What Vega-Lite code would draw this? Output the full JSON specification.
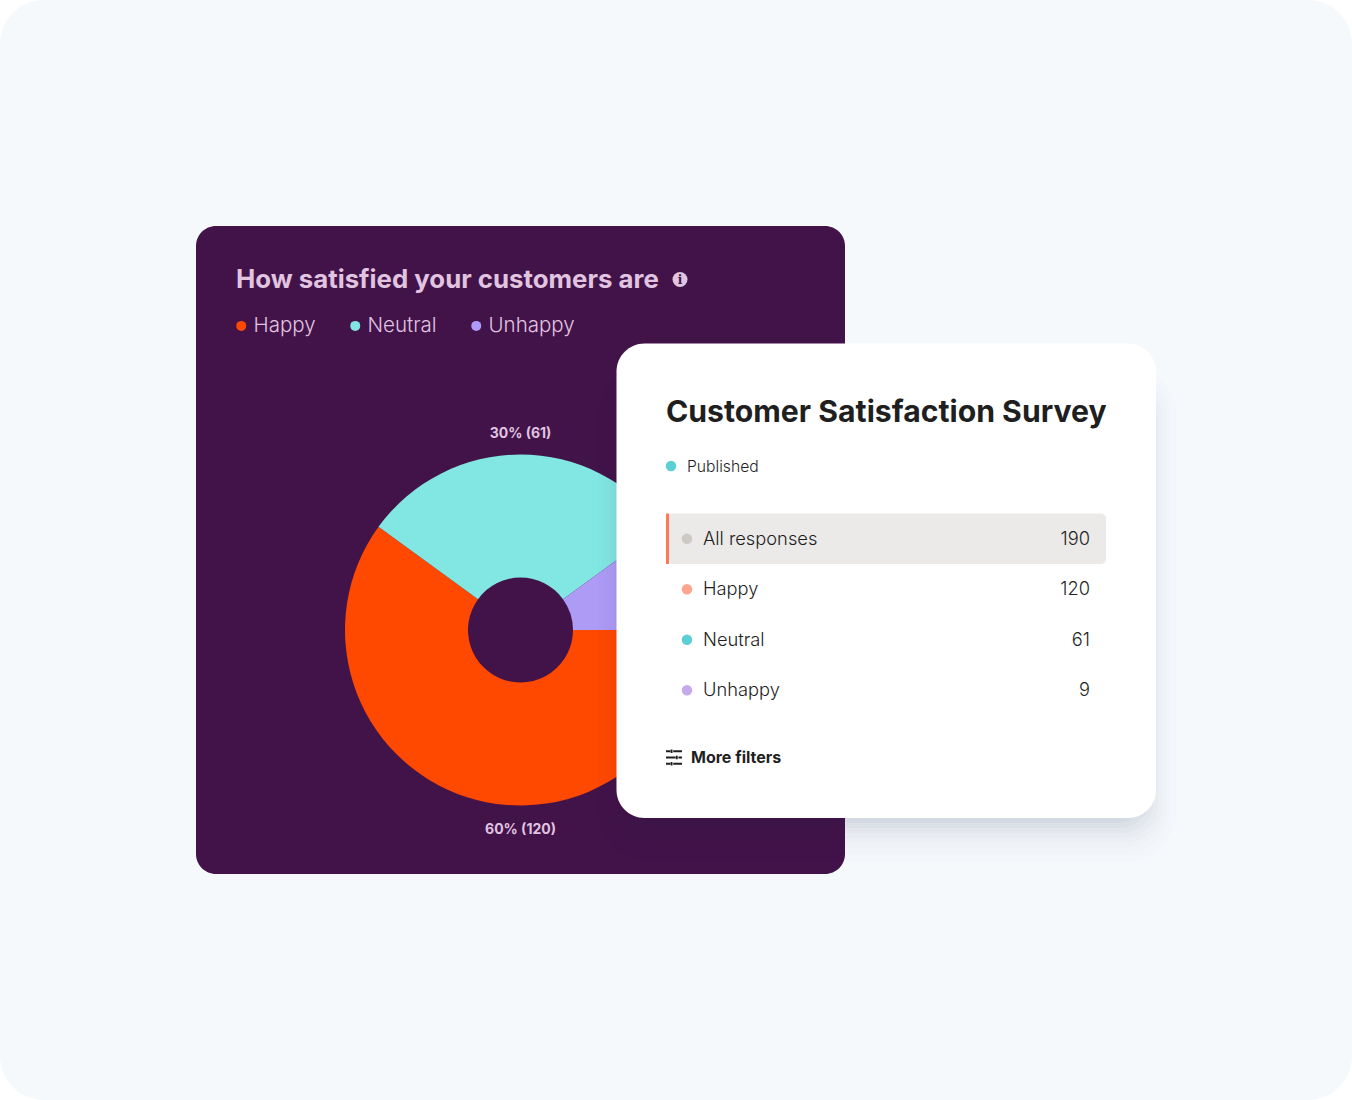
{
"$schema":"https://vega.github.io/schema/vega-lite/v6.json",
"width":1352,"height":1100,"padding":0,
"autosize":{"type":"fit","contains":"padding"},
"background":"#ffffff",
"config":{"view":{"stroke":null},"axis":{"domain":false,"ticks":false,"labels":false,"title":null,"grid":false},"font":"Inter"},
"datasets":{
"segments":[
{"segment":"Happy","share":60,"count":120,"label":"60% (120)"},
{"segment":"Neutral","share":30,"count":61,"label":"30% (61)"},
{"segment":"Unhappy","share":10,"count":9,"label":"10% (9)"}],
"rows":[
{"filter":"All responses","count":190,"selected":true},
{"filter":"Happy","count":120,"selected":false},
{"filter":"Neutral","count":61,"selected":false},
{"filter":"Unhappy","count":9,"selected":false}]
},
"data":{"name":"rows"},
"resolve":{"scale":{"y":"independent","x":"independent","color":"independent","theta":"independent"}},
"layer":[
{"mark":{"type":"rect","fill":"#f5f9fc","cornerRadius":44},"data":{"values":[{"card":"page"}]},"encoding":{"x":{"value":0},"x2":{"value":1352},"y":{"value":0},"y2":{"value":1100}}},
{"mark":{"type":"rect","fill":"#421349","cornerRadius":20},"data":{"values":[{"card":"chart"}]},"encoding":{"x":{"value":196},"x2":{"value":845},"y":{"value":226},"y2":{"value":874}}},
{"mark":{"type":"arc","radius":175.5,"radius2":52.5},"data":{"name":"segments"},
"encoding":{"x":{"value":520.5},"y":{"value":630},
"theta":{"field":"share","type":"quantitative","stack":true,"scale":{"domain":[0,100],"range":[1.5708,7.854]}},
"color":{"field":"segment","type":"nominal","scale":{"domain":["Happy","Neutral","Unhappy"],"range":["#ff4800","#82e6e2","#ae9bf6"]},
"legend":{"orient":"none","legendX":231,"legendY":315.5,"direction":"horizontal","title":null,"symbolType":"circle","symbolSize":100,"symbolStrokeWidth":0,"labelFontSize":20.5,"labelColor":"#e0c4e0","labelFont":"Inter","labelFontWeight":300,"labelOffset":2,"columnPadding":29,"padding":0}}}},
{"mark":{"type":"text","align":"center","baseline":"middle","dy":1.5,"fontSize":14,"fontWeight":700,"color":"#e0c4e0"},"data":{"name":"segments"},"transform":[{"filter":"datum.segment !== 'Unhappy'"}],
"encoding":{"x":{"value":520.5},"y":{"field":"segment","type":"nominal","axis":null,"scale":{"type":"point","padding":0,"domain":["Neutral","Happy"],"range":[432,828]}},"text":{"field":"label"}}},
{"mark":{"type":"text","align":"left","baseline":"middle","fontSize":25.8,"fontWeight":700,"color":"#e0c4e0"},"data":{"values":[{"t":"How satisfied your customers are"}]},"encoding":{"x":{"value":236},"y":{"value":280},"text":{"field":"t"}}},
{"mark":{"type":"point","filled":true,"size":225,"color":"#e0c4e0","opacity":1},"data":{"values":[{"t":"info"}]},"encoding":{"x":{"value":680},"y":{"value":279.5}}},
{"mark":{"type":"text","align":"center","baseline":"middle","fontSize":12,"fontWeight":700,"font":"DejaVu Serif","color":"#421349"},"data":{"values":[{"t":"i"}]},"encoding":{"x":{"value":680},"y":{"value":280},"text":{"field":"t"}}},
{"mark":{"type":"rect","fill":"#2d3e50","opacity":0.03,"cornerRadius":28},"data":{"values":[{"card":"shadow"}]},"encoding":{"x":{"value":626},"x2":{"value":1146},"y":{"value":400},"y2":{"value":823}}},
{"mark":{"type":"rect","fill":"#2d3e50","opacity":0.03,"cornerRadius":30},"data":{"values":[{"card":"shadow"}]},"encoding":{"x":{"value":622},"x2":{"value":1150},"y":{"value":395},"y2":{"value":828}}},
{"mark":{"type":"rect","fill":"#2d3e50","opacity":0.025,"cornerRadius":32},"data":{"values":[{"card":"shadow"}]},"encoding":{"x":{"value":618},"x2":{"value":1154},"y":{"value":390},"y2":{"value":833}}},
{"mark":{"type":"rect","fill":"#2d3e50","opacity":0.02,"cornerRadius":34},"data":{"values":[{"card":"shadow"}]},"encoding":{"x":{"value":614},"x2":{"value":1158},"y":{"value":385},"y2":{"value":838}}},
{"mark":{"type":"rect","fill":"#2d3e50","opacity":0.015,"cornerRadius":38},"data":{"values":[{"card":"shadow"}]},"encoding":{"x":{"value":610},"x2":{"value":1162},"y":{"value":380},"y2":{"value":843}}},
{"mark":{"type":"rect","fill":"#2d3e50","opacity":0.012,"cornerRadius":42},"data":{"values":[{"card":"shadow"}]},"encoding":{"x":{"value":606},"x2":{"value":1166},"y":{"value":375},"y2":{"value":848}}},
{"mark":{"type":"rect","fill":"#2d3e50","opacity":0.01,"cornerRadius":46},"data":{"values":[{"card":"shadow"}]},"encoding":{"x":{"value":602},"x2":{"value":1170},"y":{"value":370},"y2":{"value":854}}},
{"mark":{"type":"rect","fill":"#2d3e50","opacity":0.008,"cornerRadius":50},"data":{"values":[{"card":"shadow"}]},"encoding":{"x":{"value":598},"x2":{"value":1176},"y":{"value":365},"y2":{"value":862}}},
{"mark":{"type":"rect","fill":"#ffffff","cornerRadius":28},"data":{"values":[{"card":"survey"}]},"encoding":{"x":{"value":616.5},"x2":{"value":1156},"y":{"value":343.5},"y2":{"value":818}}},
{"mark":{"type":"text","align":"left","baseline":"middle","fontSize":30.2,"fontWeight":700,"color":"#1f1f1f"},"data":{"values":[{"t":"Customer Satisfaction Survey"}]},"encoding":{"x":{"value":666},"y":{"value":412.5},"text":{"field":"t"}}},
{"mark":{"type":"point","filled":true,"size":110,"color":"#5ccfd6","opacity":1},"data":{"values":[{"t":"Published"}]},"encoding":{"x":{"value":671},"y":{"value":466}}},
{"mark":{"type":"text","align":"left","baseline":"middle","fontSize":15.7,"fontWeight":300,"color":"#1f1f1f"},"data":{"values":[{"t":"Published"}]},"encoding":{"x":{"value":687},"y":{"value":467},"text":{"field":"t"}}},
{"mark":{"type":"rect","fill":"#ebeae8","cornerRadius":5},"transform":[{"filter":"datum.selected"}],
"encoding":{"x":{"value":667},"x2":{"value":1106},"y":{"field":"filter","type":"nominal","axis":null,"scale":{"type":"band","paddingInner":0,"paddingOuter":0,"domain":["All responses","Happy","Neutral","Unhappy"],"range":[513.5,715.5]}}}},
{"mark":{"type":"rect","fill":"#ff7a59"},"transform":[{"filter":"datum.selected"}],
"encoding":{"x":{"value":666},"x2":{"value":669},"y":{"field":"filter","type":"nominal","axis":null,"scale":{"type":"band","paddingInner":0,"paddingOuter":0,"domain":["All responses","Happy","Neutral","Unhappy"],"range":[513.5,715.5]}}}},
{"mark":{"type":"point","filled":true,"size":110,"opacity":1},
"encoding":{"x":{"value":687},"y":{"field":"filter","type":"nominal","axis":null,"scale":{"type":"band","paddingInner":0,"paddingOuter":0,"domain":["All responses","Happy","Neutral","Unhappy"],"range":[513.5,715.5]}},
"color":{"field":"filter","type":"nominal","legend":null,"scale":{"domain":["All responses","Happy","Neutral","Unhappy"],"range":["#cdc9c5","#ffa58f","#5ccfd6","#c5a9ec"]}}}},
{"mark":{"type":"text","align":"left","baseline":"middle","dy":1,"fontSize":18.3,"fontWeight":300,"color":"#1f1f1f"},
"encoding":{"x":{"value":703},"y":{"field":"filter","type":"nominal","axis":null,"scale":{"type":"band","paddingInner":0,"paddingOuter":0,"domain":["All responses","Happy","Neutral","Unhappy"],"range":[513.5,715.5]}},"text":{"field":"filter"}}},
{"mark":{"type":"text","align":"right","baseline":"middle","dy":1,"fontSize":18.3,"fontWeight":300,"color":"#1f1f1f"},
"encoding":{"x":{"value":1090},"y":{"field":"filter","type":"nominal","axis":null,"scale":{"type":"band","paddingInner":0,"paddingOuter":0,"domain":["All responses","Happy","Neutral","Unhappy"],"range":[513.5,715.5]}},"text":{"field":"count","type":"quantitative"}}},
{"mark":{"type":"point","shape":"M-1,-0.78H-0.45M-0.1,-0.78H1M-0.3,-1V-0.55M-1,0H0.2M0.55,0H1M0.35,-0.22V0.22M-1,0.78H-0.45M-0.1,0.78H1M-0.3,0.55V1","size":256,"filled":false,"strokeWidth":1.8,"color":"#1f1f1f","opacity":1},"data":{"values":[{"t":"filters icon"}]},"encoding":{"x":{"value":674},"y":{"value":757.5}}},
{"mark":{"type":"text","align":"left","baseline":"middle","fontSize":16,"fontWeight":700,"color":"#1f1f1f"},"data":{"values":[{"t":"More filters"}]},"encoding":{"x":{"value":691},"y":{"value":758},"text":{"field":"t"}}}
]
}
